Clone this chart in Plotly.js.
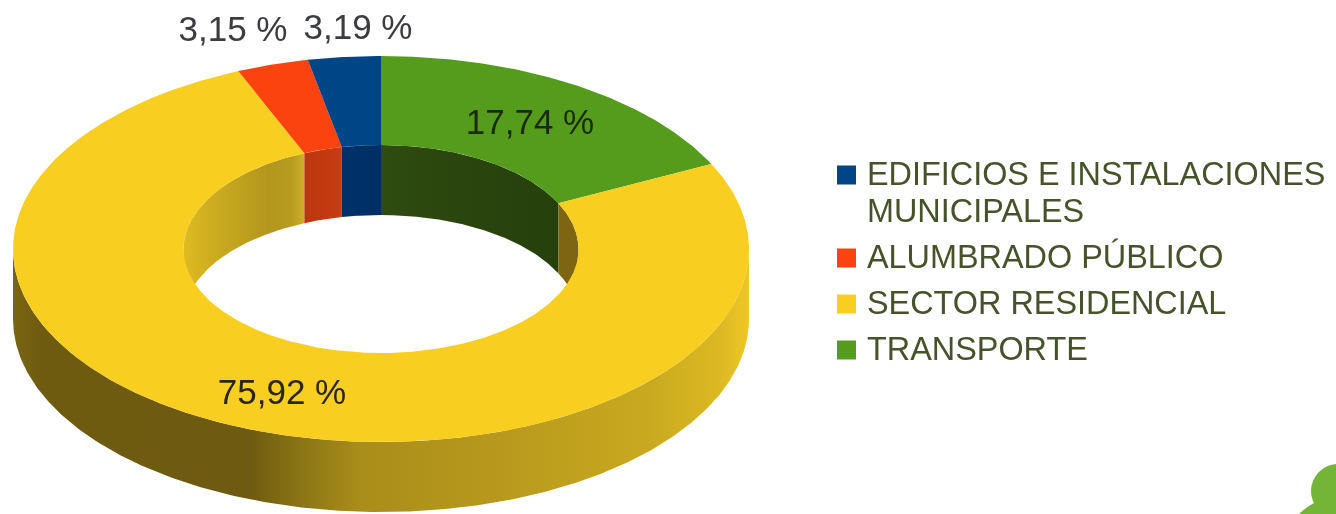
<!DOCTYPE html>
<html>
<head>
<meta charset="utf-8">
<script src="https://cdn.plot.ly/plotly-3.0.1.min.js"></script>
<style>
html,body{margin:0;padding:0;background:#fff;overflow:hidden}
#chart{width:1336px;height:514px;filter:blur(0.45px)}
</style>
</head>
<body>
<div id="chart"></div>
<script>
// ---- data, clockwise from twelve o'clock ----
const categories = ['TRANSPORTE', 'SECTOR RESIDENCIAL', 'ALUMBRADO PÚBLICO', 'EDIFICIOS E INSTALACIONES MUNICIPALES'];
const shares = [17.74, 75.92, 3.15, 3.19];
const topColors = ['#559c1c', '#f8cf21', '#fb430f', '#004586'];
const innerWallScales = [
  [[0, '#2f4c10'], [0.3, '#2b470e'], [1, '#26400c']],
  null,
  [[0, '#bb3610'], [1, '#c83c10']],
  [[0, '#00316a'], [1, '#002f64']]
];
// legend rows (drawn top to bottom)
const legendOrder = [3, 2, 1, 0];
const legendMarkerY = [175, 258, 304, 350];
const legendLines = ['EDIFICIOS E INSTALACIONES', 'MUNICIPALES', 'ALUMBRADO PÚBLICO', 'SECTOR RESIDENCIAL', 'TRANSPORTE'];
const legendLineY = [177, 214, 260, 306, 352];
// value label centres, same order as categories
const labelX = [530, 282, 233, 358];
const labelY = [125, 395, 32, 30];
const labelColors = ['#1c2a0c', '#2a2410', '#3a3c40', '#3a3c40'];

// ---- drum geometry in axis units ----
const cx = 381, cy = 249, rxO = 368, ryO = 193, rxI = 197.5, ryI = 104, depth = 70;
const pt = (deg, rx, ry, dy) => {
  const a = deg * Math.PI / 180;
  return [cx + rx * Math.sin(a), cy - ry * Math.cos(a) + (dy || 0)];
};
function arc(from, to, rx, ry, dy) {
  const n = Math.max(2, Math.ceil(Math.abs(to - from) * 2));
  const out = [];
  for (let i = 0; i <= n; i++) out.push(pt(from + (to - from) * i / n, rx, ry, dy));
  return out;
}
function band(outerPts, innerPts) {
  const all = outerPts.concat(innerPts.slice().reverse());
  all.push(all[0]);
  return {x: all.map(p => p[0]), y: all.map(p => p[1])};
}
function poly(b, extra) {
  return Object.assign({
    type: 'scatter', mode: 'lines', x: b.x, y: b.y, fill: 'toself',
    line: {width: 0}, hoverinfo: 'skip', showlegend: false
  }, extra);
}

let acc = 0;
const slices = shares.map((s, i) => {
  const start = acc * 3.6; acc += s;
  return {i, start, end: acc * 3.6};
});

const traces = [];

// outer front wall
traces.push(poly(band(arc(90, 270, rxO, ryO, 0), arc(90, 270, rxO, ryO, depth)), {
  fillgradient: {type: 'horizontal', colorscale: [
    [0, '#7a6511'], [0.04, '#6f5b10'], [0.32, '#6e5a10'], [0.39, '#8a7415'], [0.47, '#a98d1a'],
    [0.66, '#b8991d'], [0.865, '#c9a91f'], [0.96, '#dcb923'], [1, '#efc825']
  ]}
}));

// inner back wall, only the far half of the hole is visible
slices.forEach(sl => {
  const pieces = [];
  if (sl.start < 90) pieces.push([sl.start, Math.min(sl.end, 90)]);
  if (sl.end > 270) pieces.push([Math.max(sl.start, 270), sl.end]);
  pieces.forEach(pc => {
    const extra = {};
    if (innerWallScales[sl.i]) {
      extra.fillgradient = {type: 'horizontal', colorscale: innerWallScales[sl.i]};
    } else if (pc[0] < 90) {
      extra.fillcolor = '#7d6512';
    } else {
      extra.fillgradient = {type: 'horizontal', colorscale: [
        [0, '#e0bc22'], [0.2, '#cfae20'], [0.7, '#b3961c'], [0.9, '#b89c20'], [1, '#d0b028']
      ]};
    }
    traces.push(poly(band(arc(pc[0], pc[1], rxI, ryI, 0), arc(pc[0], pc[1], rxI, ryI, depth)), extra));
  });
});

// top faces
slices.forEach(sl => {
  traces.push(poly(band(arc(sl.start, sl.end, rxO, ryO, 0), arc(sl.start, sl.end, rxI, ryI, 0)), {
    fillcolor: topColors[sl.i]
  }));
});

// value labels
traces.push({
  type: 'scatter', mode: 'text', x: labelX, y: labelY,
  text: shares.map(v => v.toFixed(2).replace('.', ',') + ' %'),
  textposition: 'middle center',
  textfont: {family: '"Liberation Sans", Arial, sans-serif', size: 35, color: labelColors},
  hoverinfo: 'skip', showlegend: false
});

// legend
traces.push({
  type: 'scatter', mode: 'markers',
  x: legendOrder.map(() => 846.5), y: legendMarkerY,
  marker: {symbol: 'square', size: 19, color: legendOrder.map(i => topColors[i]), line: {width: 0}},
  hoverinfo: 'skip', showlegend: false
});
traces.push({
  type: 'scatter', mode: 'text',
  x: legendLines.map(() => 867), y: legendLineY,
  text: legendLines, textposition: 'middle right',
  textfont: {family: '"Liberation Sans", Arial, sans-serif', size: 32.4, color: '#46532a'},
  hoverinfo: 'skip', showlegend: false
});

const layout = {
  width: 1336, height: 514,
  margin: {l: 0, r: 0, t: 0, b: 0, pad: 0},
  paper_bgcolor: '#ffffff', plot_bgcolor: '#ffffff',
  xaxis: {range: [0, 1336], visible: false, fixedrange: true},
  yaxis: {range: [514, 0], visible: false, fixedrange: true},
  showlegend: false, hovermode: false,
  shapes: [
    {type: 'circle', xref: 'x', yref: 'y', x0: 1311, x1: 1365, y0: 464, y1: 518, fillcolor: '#74b436', line: {width: 0}},
    {type: 'circle', xref: 'x', yref: 'y', x0: 1280, x1: 1410, y0: 495, y1: 625, fillcolor: '#74b436', line: {width: 0}}
  ]
};
Plotly.newPlot('chart', traces, layout, {displayModeBar: false, staticPlot: true});
</script>
</body>
</html>
